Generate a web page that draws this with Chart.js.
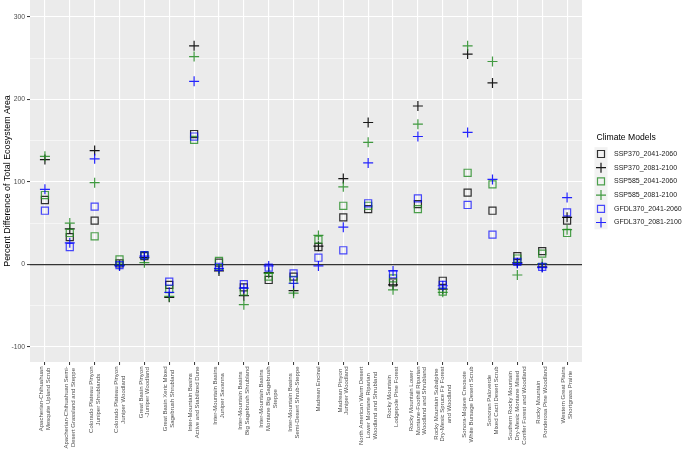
<!DOCTYPE html>
<html>
<head>
<meta charset="utf-8">
<script src="https://cdn.jsdelivr.net/npm/chart.js@4/dist/chart.umd.min.js"></script>
<style>
  html, body { margin: 0; padding: 0; background: #ffffff; }
  #wrap { position: relative; width: 685px; height: 464px; }
</style>
</head>
<body>
<div id="wrap"><canvas id="c"></canvas></div>
<script>
// ---------- data ----------
const categories = [
  ["Apacherian-Chihuahuan", "Mesquite Upland Scrub"],
  ["Apacherian-Chihuahuan Semi-", "Desert Grassland and Steppe"],
  ["Colorado Plateau Pinyon", "Juniper Shrublands"],
  ["Colorado Plateau Pinyon", "Juniper Woodland"],
  ["Great Basin Pinyon", "-Juniper Woodland"],
  ["Great Basin Xeric Mixed", "Sagebrush Shrubland"],
  ["Inter-Mountain Basins", "Active and Stabilized Dune"],
  ["Inter-Mountain Basins", "Juniper Savanna"],
  ["Inter-Mountain Basins", "Big Sagebrush Shrubland"],
  ["Inter-Mountain Basins", "Montane Big Sagebrush", "Steppe"],
  ["Inter-Mountain Basins", "Semi-Desert Shrub-Steppe"],
  ["Madrean Encinal"],
  ["Madrean Pinyon", "Juniper Woodland"],
  ["North American Warm Desert", "Lower Montane Riparian", "Woodland and Shrubland"],
  ["Rocky Mountain", "Lodgepole Pine Forest"],
  ["Rocky Mountain Lower", "Montane-Foothill Riparian", "Woodland and Shrubland"],
  ["Rocky Mountain Subalpine", "Dry-Mesic Spruce Fir Forest", "and Woodland"],
  ["Sonora-Mojave Creosote", "White Bursage Desert Scrub"],
  ["Sonoran Paloverde", "Mixed Cacti Desert Scrub"],
  ["Southern Rocky Mountain", "Dry-Mesic Montane Mixed", "Conifer Forest and Woodland"],
  ["Rocky Mountain", "Ponderosa Pine Woodland"],
  ["Western Great Plains", "Shortgrass Prairie"]
];

const ssp370_2041 = [78, 33, 53, 1, 10, -25, 158, 2, -28, -19, -15, 21, 57, 67, -22, 73, -20, 87, 65, 10, 16, 53];
const ssp370_2081 = [127, 43, 138, -1, 8, -40, 265, -8, -38, -10, -32, 22, 104, 172, -25, 192, -30, 255, 220, 2, -3, 57];
const ssp585_2041 = [84, 38, 34, 6, 11, -30, 151, 4, -33, -15, -19, 30, 71, 71, -17, 67, -33, 111, 97, 7, 13, 38];
const ssp585_2081 = [131, 50, 99, -1, 2, -39, 252, -6, -49, -11, -35, 35, 94, 148, -31, 170, -34, 265, 246, -13, 1, 42];
const gfdl370_2041 = [65, 21, 70, -1, 11, -21, 155, -3, -24, -4, -11, 8, 17, 74, -12, 80, -25, 72, 36, 3, -3, 63];
const gfdl370_2081 = [91, 26, 128, -2, 10, -34, 222, -5, -29, -2, -23, -2, 45, 123, -8, 155, -26, 160, 103, 1, -4, 81];

const seriesNames = ["SSP370_2041-2060", "SSP370_2081-2100", "SSP585_2041-2060", "SSP585_2081-2100", "GFDL370_2041-2060", "GFDL370_2081-2100"];
const yMajorTicks = [-100, 0, 100, 200, 300];
const yMinorTicks = [-50, 50, 150, 250];
const yTitle = "Percent Difference of Total Ecosystem Area";
const legendTitle = "Climate Models";

// ---------- styles ----------
const BLACK_SQ = 'rgba(0,0,0,0.8)';
const BLACK_X = 'rgba(0,0,0,0.9)';
const GREEN_SQ = 'rgba(34,139,34,0.8)';
const GREEN_X = 'rgba(34,139,34,0.85)';
const BLUE_SQ = 'rgba(0,0,255,0.7)';
const BLUE_X = 'rgba(0,0,255,0.85)';

const seriesValues = [ssp370_2041, ssp370_2081, ssp585_2041, ssp585_2081, gfdl370_2041, gfdl370_2081];
const seriesStyles = [
  { shape: 'rect', color: BLACK_SQ },
  { shape: 'cross', color: BLACK_X },
  { shape: 'rect', color: GREEN_SQ },
  { shape: 'cross', color: GREEN_X },
  { shape: 'rect', color: BLUE_SQ },
  { shape: 'cross', color: BLUE_X }
];

const datasets = seriesValues.map((vals, s) => ({
  label: seriesNames[s],
  data: vals.map((v, i) => ({ x: i, y: v })),
  pointStyle: seriesStyles[s].shape,
  pointRadius: 5,
  pointHoverRadius: 5,
  pointBorderWidth: 1.2,
  pointBackgroundColor: 'rgba(0,0,0,0)',
  pointBorderColor: seriesStyles[s].color,
  showLine: false,
  order: seriesValues.length - s
}));

const FONT = '"Liberation Sans", Arial, sans-serif';

const panelBg = {
  id: 'panelBg',
  beforeDraw(chart) {
    const { ctx, chartArea: a } = chart;
    ctx.save();
    ctx.fillStyle = '#EBEBEB';
    ctx.fillRect(a.left, a.top, a.right - a.left, a.bottom - a.top);
    ctx.restore();
  }
};

const xLabels = {
  id: 'xLabels',
  afterDraw(chart) {
    const { ctx, chartArea: a } = chart;
    const xs = chart.scales.x;
    ctx.save();
    ctx.font = '6px ' + FONT;
    ctx.fillStyle = '#4D4D4D';
    ctx.textAlign = 'center';
    ctx.textBaseline = 'middle';
    const lh = 6.9;
    const yTop = a.bottom + 4.5;
    categories.forEach((lines, i) => {
      const px = xs.getPixelForValue(i);
      const maxW = Math.max(...lines.map(l => ctx.measureText(l).width));
      const n = lines.length;
      lines.forEach((line, j) => {
        const lx = px + (j - (n - 1) / 2) * lh;
        ctx.save();
        ctx.translate(lx, yTop + maxW / 2);
        ctx.rotate(-Math.PI / 2);
        ctx.fillText(line, 0, 0);
        ctx.restore();
      });
    });
    ctx.restore();
  }
};

const customLegend = {
  id: 'customLegend',
  afterDraw(chart) {
    const { ctx } = chart;
    ctx.save();
    ctx.font = '8.6px ' + FONT;
    ctx.fillStyle = '#000000';
    ctx.textAlign = 'left';
    ctx.textBaseline = 'middle';
    ctx.fillText(legendTitle, 596.5, 137.5);
    const keyX = 601, y0 = 154, step = 13.7, key = 13;
    ctx.fillStyle = '#F2F2F2';
    ctx.fillRect(keyX - key / 2, y0 - step / 2, key, step * seriesNames.length);
    seriesNames.forEach((name, k) => {
      const y = y0 + k * step;
      const st = seriesStyles[k];
      ctx.strokeStyle = st.color;
      ctx.lineWidth = 1.2;
      ctx.beginPath();
      if (st.shape === 'rect') {
        ctx.rect(keyX - 3.5, y - 3.5, 7, 7);
      } else {
        ctx.moveTo(keyX - 5, y); ctx.lineTo(keyX + 5, y);
        ctx.moveTo(keyX, y - 5); ctx.lineTo(keyX, y + 5);
      }
      ctx.stroke();
      ctx.fillStyle = '#1A1A1A';
      ctx.font = '7px ' + FONT;
      ctx.fillText(name, 614, y);
    });
    ctx.restore();
  }
};

new Chart(document.getElementById('c'), {
  type: 'scatter',
  data: { datasets },
  plugins: [panelBg, xLabels, customLegend],
  options: {
    responsive: true,
    maintainAspectRatio: false,
    animation: false,
    devicePixelRatio: 1,
    layout: { autoPadding: false, padding: { left: 0, top: 0, right: 103, bottom: 0 } },
    plugins: { legend: { display: false }, tooltip: { enabled: false } },
    scales: {
      x: {
        type: 'linear',
        min: -0.6,
        max: categories.length - 1 + 0.6,
        afterBuildTicks(scale) {
          scale.ticks = categories.map((c, i) => ({ value: i }));
        },
        afterFit(scale) {
          scale.height = 102;
          scale.paddingLeft = 0; scale.paddingRight = 0;
        },
        ticks: { display: false },
        border: { display: false },
        grid: {
          color: '#FFFFFF',
          lineWidth: 1.1,
          drawTicks: true,
          tickLength: 3,
          tickColor: '#333333',
          tickWidth: 1
        }
      },
      y: {
        type: 'linear',
        min: -118.5,
        max: 320.6,
        afterBuildTicks(scale) {
          scale.ticks = yMajorTicks.concat(yMinorTicks).sort((a, b) => a - b).map(v => ({ value: v }));
        },
        afterFit(scale) {
          scale.width = 30;
          scale.paddingTop = 0; scale.paddingBottom = 0;
        },
        border: { display: false },
        title: {
          display: true,
          text: yTitle,
          color: '#000000',
          font: { family: FONT, size: 8.9 },
          padding: { top: 2, bottom: 0 }
        },
        ticks: {
          color: '#4D4D4D',
          font: { family: FONT, size: 6.8 },
          padding: 2,
          callback: (v) => yMajorTicks.includes(v) ? String(v) : ''
        },
        grid: {
          color: (c) => c.tick && c.tick.value === 0 ? '#333333' : '#FFFFFF',
          lineWidth: (c) => {
            if (!c.tick) return 1;
            if (c.tick.value === 0) return 1.2;
            return yMajorTicks.includes(c.tick.value) ? 1.1 : 0.5;
          },
          drawTicks: true,
          tickLength: 3,
          tickWidth: 1,
          tickColor: (c) => c.tick && yMajorTicks.includes(c.tick.value) ? '#333333' : 'rgba(0,0,0,0)'
        }
      }
    }
  }
});
</script>
</body>
</html>
